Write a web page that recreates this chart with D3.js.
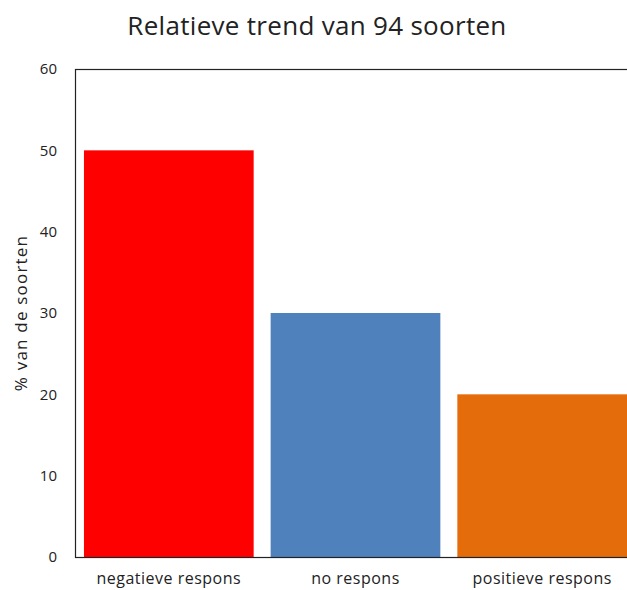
<!DOCTYPE html>
<html>
<head>
<meta charset="utf-8">
<script src="https://cdn.jsdelivr.net/npm/d3@7"></script>
<style>
  body { margin: 0; background: #fff; }
  text { font-family: "Open Sans", sans-serif; fill: #222; }
</style>
</head>
<body>
<script>
var categories = ["negatieve respons", "no respons", "positieve respons"];
var values = [50, 30, 20];
var colors = ["#ff0000", "#4f81bd", "#e46c0a"];
var yTicks = [0, 10, 20, 30, 40, 50, 60];

var width = 627,
    height = 590,
    margin = { top: 69, right: -9, bottom: 33, left: 75 };

var svg = d3.select("body").append("svg")
    .attr("width", width)
    .attr("height", height);

var x = d3.scaleBand()
    .domain(categories)
    .range([margin.left, width - margin.right])
    .paddingInner(0.091)
    .paddingOuter(0.048);

var y = d3.scaleLinear()
    .domain([0, 60])
    .range([height - margin.bottom, margin.top]);

// title
svg.append("text")
    .attr("x", 317)
    .attr("y", 35)
    .attr("text-anchor", "middle")
    .style("font-size", "26px")
    .style("letter-spacing", "0.3px")
    .text("Relatieve trend van 94 soorten");

// bars
svg.selectAll(".bar")
    .data(values)
    .enter().append("rect")
    .attr("class", "bar")
    .attr("x", function (d, i) { return x(categories[i]); })
    .attr("y", function (d) { return y(d); })
    .attr("width", x.bandwidth())
    .attr("height", function (d) { return y(0) - y(d); })
    .style("fill", function (d, i) { return colors[i]; });

// frame
svg.append("rect")
    .attr("x", margin.left + 0.5)
    .attr("y", y(60) + 0.5)
    .attr("width", width - margin.right - margin.left)
    .attr("height", y(0) - y(60))
    .style("fill", "none")
    .style("stroke", "#222")
    .style("stroke-width", 1.2);

// y axis
var yAxis = svg.append("g")
    .attr("transform", "translate(" + margin.left + ",0)")
    .call(d3.axisLeft(y).tickValues(yTicks).tickSize(0).tickPadding(18));
yAxis.select(".domain").remove();
yAxis.selectAll("text")
    .style("font-size", "15px")
    .style("font-family", "'Open Sans', sans-serif")
    .attr("fill", "#222");

// x axis
var xAxis = svg.append("g")
    .attr("transform", "translate(0," + y(0) + ")")
    .call(d3.axisBottom(x).tickSize(0).tickPadding(16));
xAxis.select(".domain").remove();
xAxis.selectAll("text")
    .style("font-size", "16px")
    .style("letter-spacing", "0.5px")
    .style("font-family", "'Open Sans', sans-serif")
    .attr("fill", "#222");

// y label
svg.append("text")
    .attr("transform", "translate(27," + 313 + ") rotate(-90)")
    .attr("text-anchor", "middle")
    .style("font-size", "17px")
    .style("letter-spacing", "1.2px")
    .text("% van de soorten");
</script>
</body>
</html>
